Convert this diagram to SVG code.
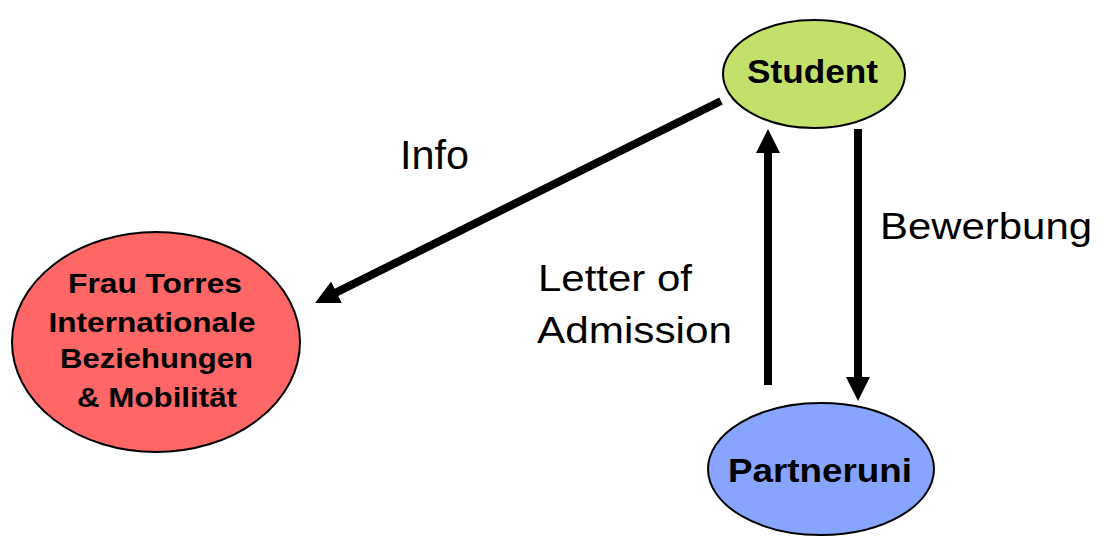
<svg xmlns="http://www.w3.org/2000/svg" width="1104" height="537" viewBox="0 0 1104 537">
<style>
.node{stroke:#000;stroke-width:2}
.nl{font-family:"Liberation Sans",Arial,sans-serif;font-weight:bold;fill:#000;text-anchor:middle}
.el{font-family:"Liberation Sans",Arial,sans-serif;fill:#000}
.conn{stroke:#000;stroke-width:8;fill:none}
</style>
<defs>
<marker id="ah" markerUnits="userSpaceOnUse" markerWidth="24" markerHeight="24" refX="4" refY="12" orient="auto">
<path d="M0,0 L24,12 L0,24 z" fill="#000"/>
</marker>
</defs>
<rect width="1104" height="537" fill="#fff"/>
<g id="connectors">
<line class="conn" x1="721" y1="101" x2="332.9" y2="294.1" marker-end="url(#ah)"/>
<line class="conn" x1="768" y1="385" x2="768" y2="149" marker-end="url(#ah)"/>
<line class="conn" x1="858" y1="129" x2="858" y2="381" marker-end="url(#ah)"/>
<text class="el" x="400" y="169" font-size="40" textLength="69" lengthAdjust="spacingAndGlyphs">Info</text>
<text class="el" x="880" y="239" font-size="36" textLength="212" lengthAdjust="spacingAndGlyphs">Bewerbung</text>
<text class="el" x="538" y="291" font-size="36" textLength="154" lengthAdjust="spacingAndGlyphs">Letter of</text>
<text class="el" x="537" y="343" font-size="36" textLength="195" lengthAdjust="spacingAndGlyphs">Admission</text>
</g>
<g id="student">
<ellipse class="node" cx="814" cy="74" rx="91" ry="54" fill="#C3E06B"/>
<text class="nl" x="812.5" y="83" font-size="34" textLength="131" lengthAdjust="spacingAndGlyphs">Student</text>
</g>
<g id="frau-torres">
<ellipse class="node" cx="156" cy="342" rx="144" ry="110" fill="#FF6666"/>
<text class="nl" x="155" y="293" font-size="28" textLength="174" lengthAdjust="spacingAndGlyphs">Frau Torres</text>
<text class="nl" x="152" y="332" font-size="28" textLength="207" lengthAdjust="spacingAndGlyphs">Internationale</text>
<text class="nl" x="156.5" y="368" font-size="28" textLength="193" lengthAdjust="spacingAndGlyphs">Beziehungen</text>
<text class="nl" x="157" y="407" font-size="28" textLength="160" lengthAdjust="spacingAndGlyphs">&amp; Mobilität</text>
</g>
<g id="partneruni">
<ellipse class="node" cx="821" cy="469" rx="113" ry="66" fill="#87A5FF"/>
<text class="nl" x="820" y="482" font-size="33" textLength="184" lengthAdjust="spacingAndGlyphs">Partneruni</text>
</g>
</svg>
